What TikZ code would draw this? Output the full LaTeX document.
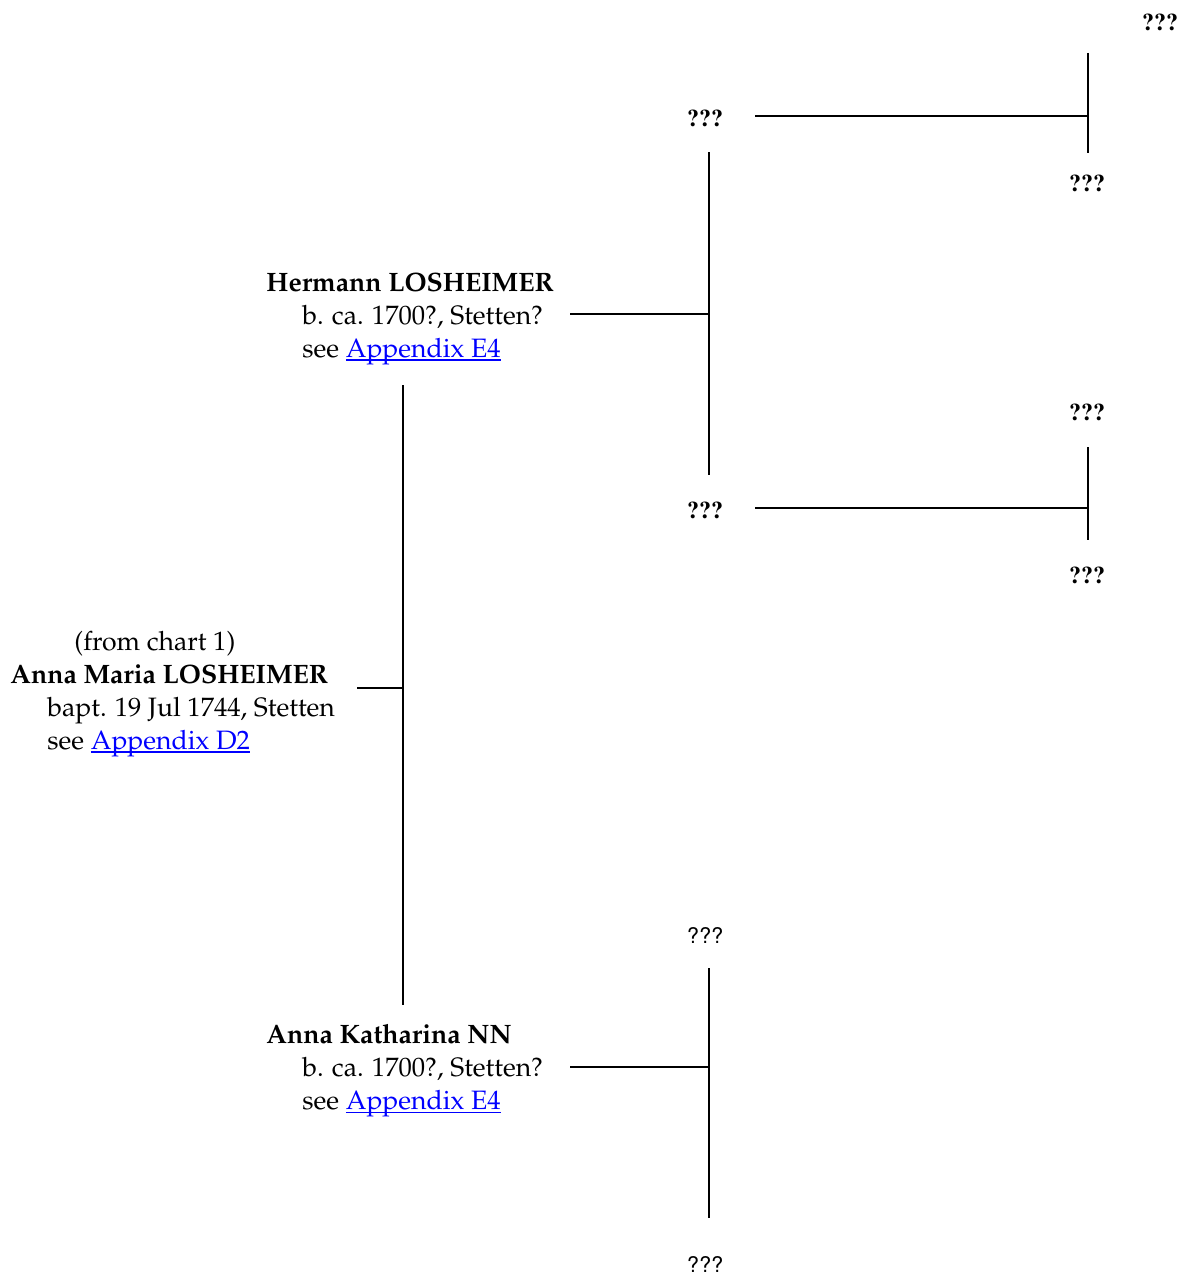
\documentclass[tikz,border=0pt]{standalone}
\usepackage[T1]{fontenc}
\usepackage{mathpazo}
\usepackage{xcolor}
\newsavebox{\linkbox}
\newcommand{\seeapp}[1]{see \textcolor{blue}{\sbox{\linkbox}{Appendix #1}%
	\rlap{\rule[-1.7pt]{\wd\linkbox}{0.75pt}}\usebox{\linkbox}}}
\tikzset{
  x=0.5pt, y=-0.5pt,
  tree/.style={line width=1pt},
  person/.style={anchor=west, align=left, inner sep=0pt,
    font=\fontsize{13.3}{16.5}\selectfont},
  unknown/.style={inner sep=0pt, font=\fontfamily{ptm}\fontsize{12}{14}\bfseries\selectfont},
  unknownplain/.style={inner sep=0pt, font=\fontfamily{phv}\fontsize{10.8}{13}\selectfont},
}

\begin{document}
\begin{tikzpicture}
	%%%%% FRAME %%%%%
	\useasboundingbox (0,0) rectangle (1183,1279);
	
	%%%%% PERSONS %%%%%
	\node[person] (hermann) at (266,319) {\textbf{Hermann LOSHEIMER}\\
		\hspace*{18pt}b. ca. 1700?, Stetten?\\
		\hspace*{18pt}\seeapp{E4}};
	\node[person] (annamaria) at (10,694) {\hspace*{32pt}(from chart 1)\\
		\textbf{Anna Maria LOSHEIMER}\\
		\hspace*{18.5pt}bapt. 19 Jul 1744, Stetten\\
		\hspace*{18.5pt}\seeapp{D2}};
	\node[person] (katharina) at (266,1071) {\textbf{Anna Katharina NN}\\
		\hspace*{18pt}b. ca. 1700?, Stetten?\\
		\hspace*{18pt}\seeapp{E4}};
	
	%%%%% UNKNOWN ANCESTORS %%%%%
	\node[unknown] (hf) at (1160,22) {???};
	\node[unknown] (hfather) at (705,118) {???};
	\node[unknown] (hm) at (1087,183) {???};
	\node[unknown] (mf) at (1087,412) {???};
	\node[unknown] (hmother) at (705,510) {???};
	\node[unknown] (mm) at (1087,575) {???};
	\node[unknownplain] (kfather) at (705,936) {???};
	\node[unknownplain] (kmother) at (705,1265) {???};
	
	%%%%% CONNECTORS %%%%%
	\coordinate (hfather-out) at (755,116);
	\coordinate (hfather-j) at (1088,116);
	\coordinate (hfather-top) at (1088,53);
	\coordinate (hfather-bot) at (1088,153);
	\draw[tree] (hfather-out) -- (hfather-j);
	\draw[tree] (hfather-top) -- (hfather-bot);
	
	\coordinate (hmother-out) at (755,508);
	\coordinate (hmother-j) at (1088,508);
	\coordinate (hmother-top) at (1088,447);
	\coordinate (hmother-bot) at (1088,540);
	\draw[tree] (hmother-out) -- (hmother-j);
	\draw[tree] (hmother-top) -- (hmother-bot);
	
	\coordinate (hermann-out) at (570,314);
	\coordinate (hermann-j) at (709,314);
	\coordinate (hermann-top) at (709,152);
	\coordinate (hermann-bot) at (709,475);
	\draw[tree] (hermann-out) -- (hermann-j);
	\draw[tree] (hermann-top) -- (hermann-bot);
	
	\coordinate (annamaria-out) at (357,688);
	\coordinate (annamaria-j) at (403,688);
	\coordinate (annamaria-top) at (403,385);
	\coordinate (annamaria-bot) at (403,1005);
	\draw[tree] (annamaria-out) -- (annamaria-j);
	\draw[tree] (annamaria-top) -- (annamaria-bot);
	
	\coordinate (katharina-out) at (570,1067);
	\coordinate (katharina-j) at (709,1067);
	\coordinate (katharina-top) at (709,968);
	\coordinate (katharina-bot) at (709,1218);
	\draw[tree] (katharina-out) -- (katharina-j);
	\draw[tree] (katharina-top) -- (katharina-bot);
\end{tikzpicture}
\end{document}
